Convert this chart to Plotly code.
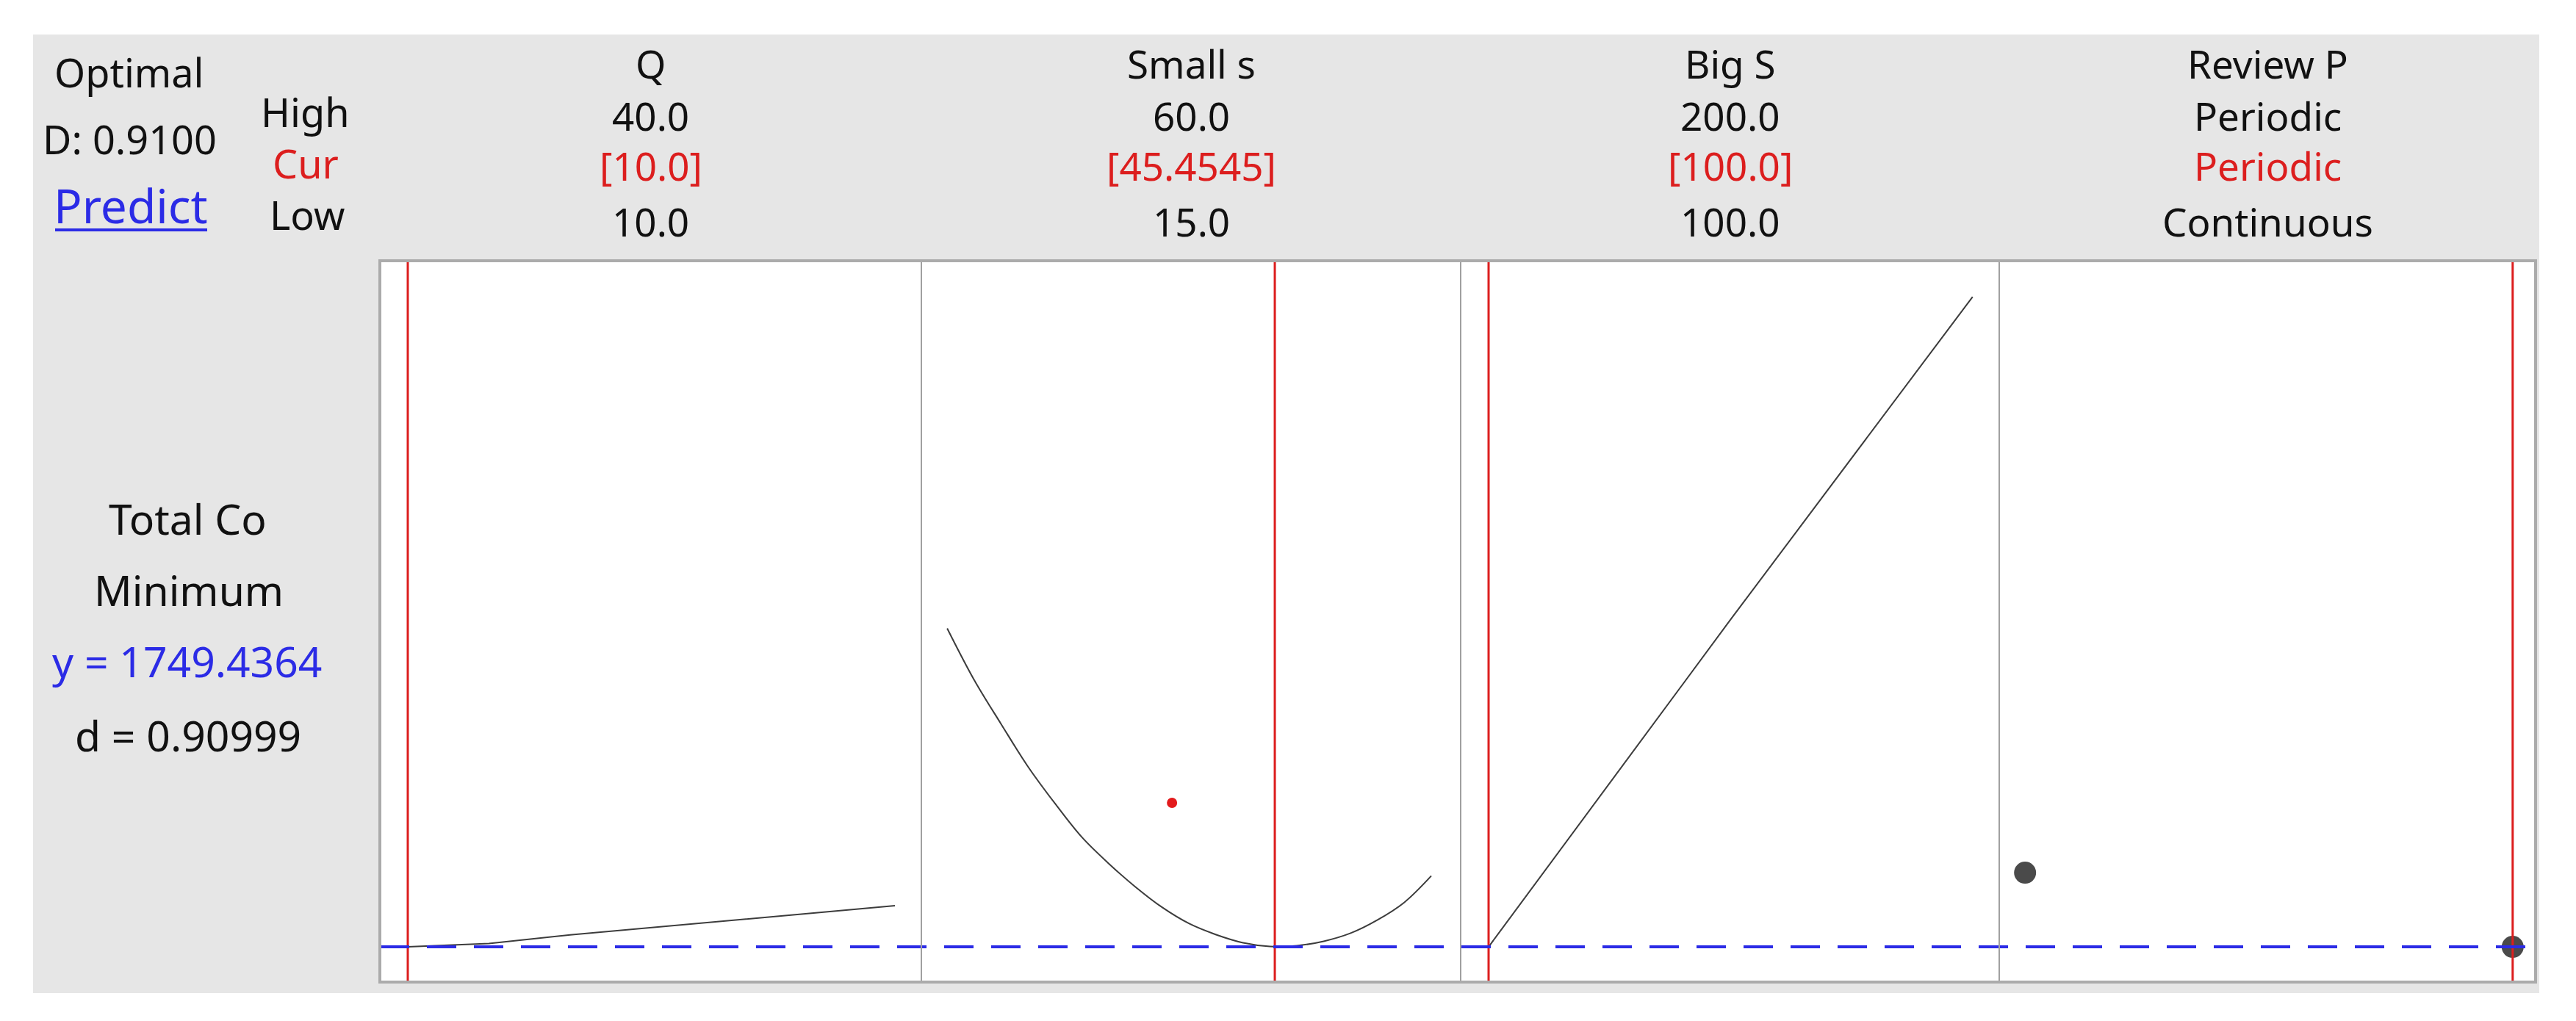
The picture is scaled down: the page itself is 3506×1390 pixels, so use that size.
import plotly.graph_objects as go

# ---------------- data ----------------
q_vals = [10, 15, 20, 25, 30, 35, 40]
q_cost = [1749.4, 1754.0, 1765.7, 1775.8, 1785.4, 1795.6, 1805.4]

s_vals = [15, 17.5, 20, 22.5, 25, 27.5, 30, 32.5, 35, 37.5, 40, 42.5, 45, 47.5, 50, 52.5, 55, 57.5, 60]
s_cost = [2183, 2113, 2053, 1995, 1945, 1899, 1863, 1831, 1803, 1781, 1766, 1755, 1750, 1751, 1757, 1768, 1786, 1810, 1846]
s_marker_x = [35.9]
s_marker_y = [1945.4]

bigS_vals = [100, 150, 200]
bigS_cost = [1749.4, 2195.0, 2634.4]

review_cats = ["Continuous", "Periodic"]
review_cost = [1850.4, 1749.4]

factor_names = ["Q", "Small s", "Big S", "Review P"]
high_labels = ["40.0", "60.0", "200.0", "Periodic"]
cur_labels = ["[10.0]", "[45.4545]", "[100.0]", "Periodic"]
low_labels = ["10.0", "15.0", "100.0", "Continuous"]
cur_values = [10, 45.4545, 100, 1]  # Periodic -> category index 1

y_opt = 1749.4364

# ---------------- layout helpers (reference pixel coords) ----------------
OFF = 8
W, H = 3506 - 2 * OFF, 1390 - 2 * OFF


def px(x):
    return (x - OFF) / W


def py(y):
    return 1 - (y - OFF) / H


panel_edges = [517, 1254, 1988, 2721, 3451]
plot_top, plot_bot = 355, 1337
x_ranges = [[8.28, 41.63], [12.6, 62.73], [94.23, 205.5], [-0.053, 1.047]]
y_range = [1701.44, 2683.44]

FONT = "Noto Sans"
FS = 53
BLACK = "#111111"
RED = "#dc1e1e"
BLUE = "#2b2be6"
CURVE = "#3c3c3c"

fig = go.Figure()

# traces
fig.add_trace(go.Scatter(x=q_vals, y=q_cost, mode="lines", line=dict(color=CURVE, width=2),
                         xaxis="x", yaxis="y", showlegend=False, hoverinfo="skip"))
fig.add_trace(go.Scatter(x=s_vals, y=s_cost, mode="lines",
                         line=dict(color=CURVE, width=2, shape="spline", smoothing=1.0),
                         xaxis="x2", yaxis="y", showlegend=False, hoverinfo="skip"))
fig.add_trace(go.Scatter(x=s_marker_x, y=s_marker_y, mode="markers", marker=dict(color="#e31a1c", size=14),
                         xaxis="x2", yaxis="y", showlegend=False, hoverinfo="skip"))
fig.add_trace(go.Scatter(x=bigS_vals, y=bigS_cost, mode="lines", line=dict(color=CURVE, width=2),
                         xaxis="x3", yaxis="y", showlegend=False, hoverinfo="skip"))
fig.add_trace(go.Scatter(x=list(range(len(review_cats))), y=review_cost, mode="markers",
                         marker=dict(color="#4a4a4a", size=30), text=review_cats,
                         xaxis="x4", yaxis="y", showlegend=False, hoverinfo="skip"))

axis_common = dict(showgrid=False, zeroline=False, showticklabels=False, showline=False,
                   ticks="", fixedrange=True)
layout_axes = {}
for i in range(4):
    name = "xaxis" if i == 0 else f"xaxis{i + 1}"
    layout_axes[name] = dict(domain=[px(panel_edges[i]), px(panel_edges[i + 1])],
                             range=x_ranges[i], anchor="y", **axis_common)
layout_axes["yaxis"] = dict(domain=[py(plot_bot), py(plot_top)], range=y_range, anchor="x", **axis_common)

shapes = []
# gray background box and white plot area
shapes.append(dict(type="rect", xref="paper", yref="paper", x0=px(45), x1=px(3456), y0=py(1352), y1=py(47),
                   fillcolor="#e6e6e6", line=dict(width=0), layer="below"))
shapes.append(dict(type="rect", xref="paper", yref="paper", x0=px(517), x1=px(3451), y0=py(plot_bot),
                   y1=py(plot_top), fillcolor="white", line=dict(width=0), layer="below"))
# red current-setting lines
for i, v in enumerate(cur_values):
    xr = "x" if i == 0 else f"x{i + 1}"
    shapes.append(dict(type="line", xref=xr, yref="y domain", x0=v, x1=v, y0=0, y1=1,
                       line=dict(color=RED, width=3), layer="above"))
# blue dashed optimum line
shapes.append(dict(type="line", xref="paper", yref="y", x0=px(517), x1=px(3451), y0=y_opt, y1=y_opt,
                   line=dict(color=BLUE, width=4, dash="40px,24px"), layer="above"))
# panel dividers
for e in panel_edges[1:-1]:
    shapes.append(dict(type="line", xref="paper", yref="paper", x0=px(e), x1=px(e), y0=py(plot_bot),
                       y1=py(plot_top), line=dict(color="#a0a0a0", width=2), layer="above"))
# outer border
shapes.append(dict(type="rect", xref="paper", yref="paper", x0=px(517), x1=px(3451), y0=py(plot_bot),
                   y1=py(plot_top), line=dict(color="#ababab", width=4), layer="above"))
# "Predict" underline
shapes.append(dict(type="line", xref="paper", yref="paper", x0=px(75), x1=px(282), y0=py(313), y1=py(313),
                   line=dict(color=BLUE, width=4)))

annotations = []


def txt(s, x, y, color=BLACK, size=FS):
    annotations.append(dict(text=s, x=px(x), y=py(y), xref="paper", yref="paper", showarrow=False,
                            xanchor="center", yanchor="middle", font=dict(family=FONT, size=size, color=color)))


centers = [(panel_edges[i] + panel_edges[i + 1]) / 2 for i in range(4)]
for i in range(4):
    txt(factor_names[i], centers[i], 86)
    txt(high_labels[i], centers[i], 157)
    txt(cur_labels[i], centers[i], 226, RED)
    txt(low_labels[i], centers[i], 302)

txt("High", 415, 152, size=54)
txt("Cur", 416, 222, RED, size=54)
txt("Low", 418, 292, size=54)
txt("Optimal", 176, 98, size=54)
txt("D: 0.9100", 176, 189, size=54)
txt("Predict", 178, 280, BLUE, size=64)

txt("Total Co", 255, 706, size=57)
txt("Minimum", 257, 803, size=57)
txt("y = 1749.4364", 254, 900, BLUE, size=57)
txt("d = 0.90999", 256, 1001, size=57)

fig.update_layout(width=W, height=H, margin=dict(l=0, r=0, t=0, b=0),
                  paper_bgcolor="white", plot_bgcolor="rgba(0,0,0,0)",
                  shapes=shapes, annotations=annotations, showlegend=False, **layout_axes)

fig.write_html("out.html")
